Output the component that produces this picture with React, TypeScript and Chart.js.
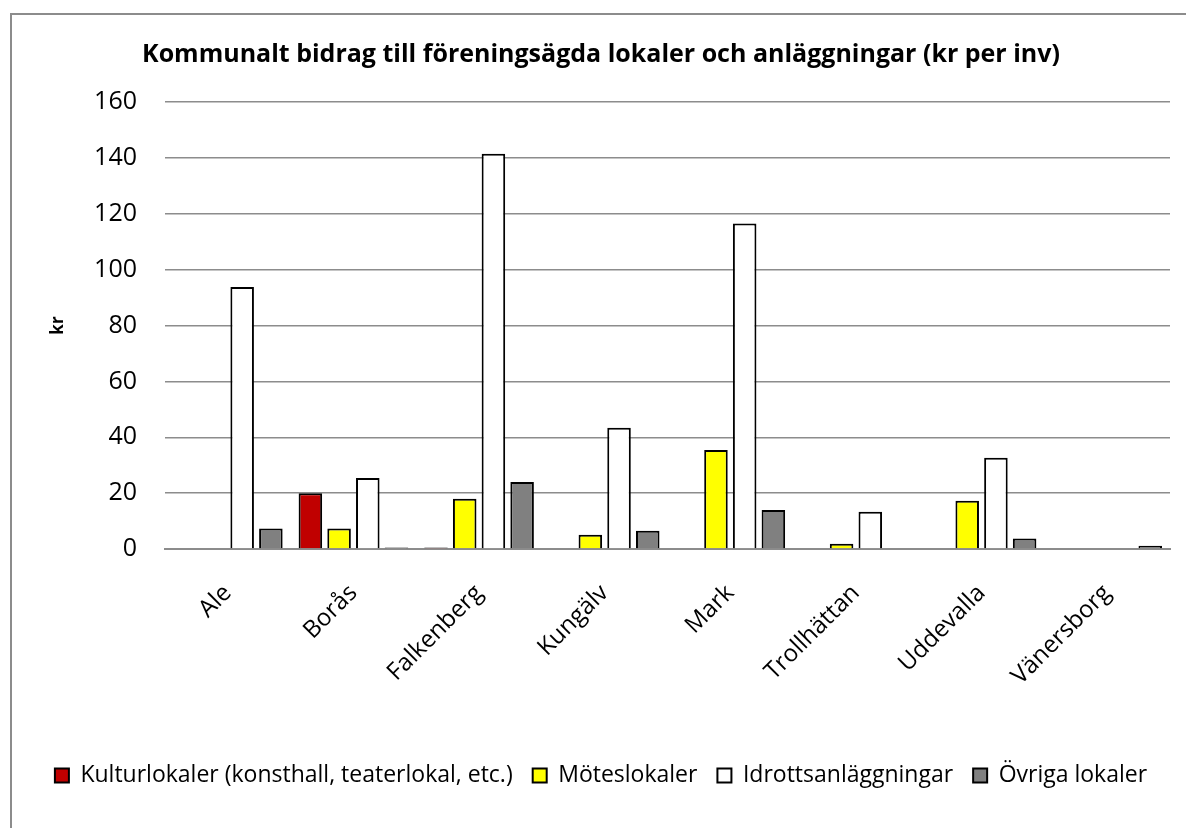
import React, { useEffect, useRef } from "react";
import { Chart, registerables } from "chart.js";

Chart.register(...registerables);

const categories = ["Ale", "Borås", "Falkenberg", "Kungälv", "Mark", "Trollhättan", "Uddevalla", "Vänersborg"];
const kulturlokaler = [null, 20, 0.5, null, null, null, null, null];
const moteslokaler = [null, 7.3, 18, 5.1, 35.4, 1.9, 17.3, null];
const idrottsanlaggningar = [93.8, 25.4, 141.5, 43.4, 116.5, 13.3, 32.7, null];
const ovrigaLokaler = [7.3, 0.5, 24, 6.5, 14, null, 3.8, 1.2];
const seriesNames = ["Kulturlokaler (konsthall, teaterlokal, etc.)", "Möteslokaler", "Idrottsanläggningar", "Övriga lokaler"];
const seriesColors = ["#C00000", "#FFFF00", "#FFFFFF", "#808080"];
const titleText = "Kommunalt bidrag till föreningsägda lokaler och anläggningar (kr per inv)";
const yTitle = "kr";

const framePlugin = {
  id: "frame",
  beforeDraw(chart: any) {
    const ctx = chart.ctx;
    ctx.save();
    ctx.fillStyle = "#ffffff";
    ctx.fillRect(0, 0, chart.width, chart.height);
    ctx.strokeStyle = "#8c8c8c";
    ctx.lineWidth = 2;
    ctx.beginPath();
    ctx.moveTo(11, chart.height);
    ctx.lineTo(11, 14);
    ctx.lineTo(chart.width, 14);
    ctx.stroke();
    ctx.restore();
  },
};

export default function App() {
  const ref = useRef<HTMLCanvasElement | null>(null);
  useEffect(() => {
    if (!ref.current) return;
    Chart.defaults.font.family = "'Open Sans', 'Noto Sans', sans-serif";
    const data = [kulturlokaler, moteslokaler, idrottsanlaggningar, ovrigaLokaler];
    const chart = new Chart(ref.current, {
      type: "bar",
      data: {
        labels: categories,
        datasets: data.map((d, i) => ({
          label: seriesNames[i],
          data: d as any,
          backgroundColor: seriesColors[i],
          borderColor: "#000000",
          borderWidth: 2,
          categoryPercentage: 0.914,
          barPercentage: 0.82,
        })),
      },
      options: {
        responsive: false,
        animation: false,
        layout: { padding: { left: 32, right: 16, top: 0, bottom: 31 } },
        plugins: {
          title: {
            display: true,
            text: titleText,
            color: "#000",
            font: { size: 25, weight: "bold" },
            padding: { top: 40, bottom: 32 },
          },
          legend: {
            position: "bottom",
            labels: {
              color: "#000",
              boxWidth: 14,
              boxHeight: 14,
              padding: 20,
              font: { size: 23 },
            },
          },
          tooltip: { enabled: false },
        },
        scales: {
          x: {
            grid: { display: false },
            border: { color: "#8c8c8c", width: 2 },
            ticks: {
              color: "#000",
              font: { size: 24 },
              minRotation: 45,
              maxRotation: 45,
              padding: 22,
            },
            afterFit: (s: any) => {
              s.height = 195;
            },
          },
          y: {
            min: 0,
            max: 160,
            grid: { color: "#8c8c8c", lineWidth: 1.5, drawTicks: false },
            border: { display: false },
            ticks: { stepSize: 20, color: "#000", font: { size: 25 }, padding: 28 },
            title: {
              display: true,
              text: yTitle,
              color: "#000",
              font: { size: 17, weight: "bold" },
              padding: { top: 16, bottom: 0 },
            },
            afterFit: (s: any) => {
              s.width = 133;
            },
          },
        },
      },
      plugins: [framePlugin],
    });
    return () => chart.destroy();
  }, []);
  return (
    <div style={{ position: "absolute", left: 0, top: 0, width: 1186, height: 828, overflow: "hidden" }}>
      <canvas ref={ref} width={1186} height={828} style={{ display: "block" }} />
    </div>
  );
}
